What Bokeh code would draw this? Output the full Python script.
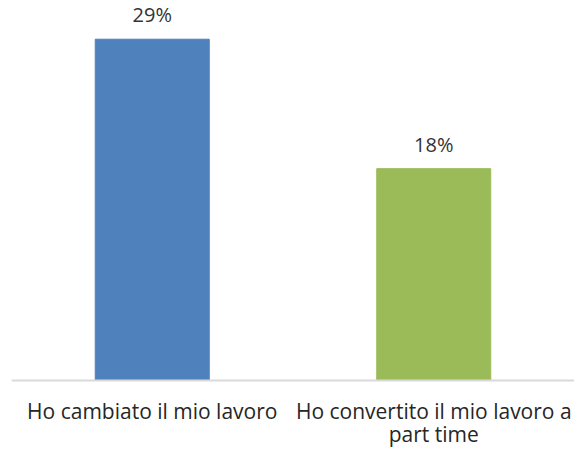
from bokeh.plotting import figure
from bokeh.models import ColumnDataSource, FactorRange, Range1d, Span
from bokeh.core.properties import value
from bokeh.embed import file_html
from bokeh.resources import INLINE

categories = ["Ho cambiato il mio lavoro", "Ho convertito il mio lavoro a\npart time"]
values = [29, 18]
labels = ["29%", "18%"]
colors = ["#4F81BD", "#9BBB59"]

src = ColumnDataSource(dict(cat=categories, val=values, lab=labels, col=colors,
                            base=[0] * len(values)))

p = figure(width=574, height=450, x_range=FactorRange(*categories, range_padding=0),
           y_range=Range1d(-5.95, 32.29), output_backend="svg", toolbar_location=None,
           min_border_left=11, min_border_right=0, min_border_top=0, min_border_bottom=0)
p.vbar(x="cat", top="val", width=0.405, color="col", source=src)
p.text(x="cat", y="val", text="lab", source=src, text_align="center", text_baseline="bottom",
       y_offset=-11, text_font=value("Open Sans"), text_font_size="20px", text_color="#333333")
p.text(x="cat", y="base", text="cat", source=src, text_align="center", text_baseline="top",
       y_offset=17, text_font=value("Open Sans"), text_font_size="21px", text_color="#262626",
       text_line_height=0.8)
p.add_layout(Span(location=0, dimension="width", line_color="#D9D9D9", line_width=2))

p.xaxis.visible = False
p.yaxis.visible = False
p.grid.visible = False
p.outline_line_color = None

open("out.html", "w").write(file_html(p, INLINE))
